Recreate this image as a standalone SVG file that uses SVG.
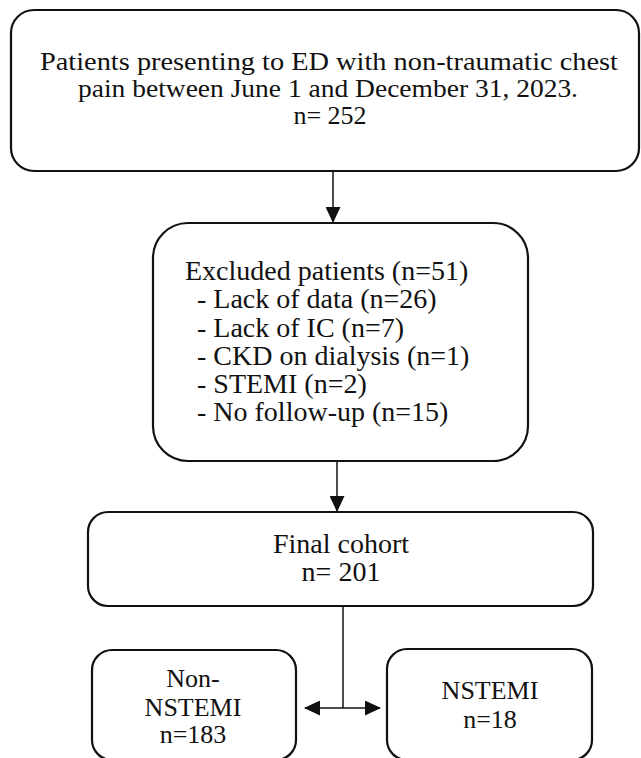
<svg xmlns="http://www.w3.org/2000/svg" width="641" height="758" viewBox="0 0 641 758">
  <defs>
    <marker id="arrow" markerUnits="userSpaceOnUse" markerWidth="16" markerHeight="15" refX="15" refY="7.5" orient="auto">
      <path d="M0,0 L16,7.5 L0,15 z" fill="#111"/>
    </marker>
    <style>
      .box { fill: #ffffff; stroke: #111; stroke-width: 2.2; }
      .conn { fill: none; stroke: #111; stroke-width: 1.5; }
      .t { font-family: "Liberation Serif", "Times New Roman", serif; font-size: 28px; fill: #111; }
      .s { font-size: 26px; }
      .xs { font-size: 25px; }
      .c { text-anchor: middle; }
    </style>
  </defs>
  <rect width="641" height="758" fill="#ffffff"/>

  <g id="connectors">
    <line class="conn" x1="333" y1="171" x2="333" y2="222" marker-end="url(#arrow)"/>
    <line class="conn" x1="337" y1="461" x2="337" y2="511" marker-end="url(#arrow)"/>
    <line class="conn" x1="343" y1="606" x2="343" y2="708"/>
    <line class="conn" x1="343" y1="708" x2="305" y2="708" marker-end="url(#arrow)"/>
    <line class="conn" x1="343" y1="708" x2="380" y2="708" marker-end="url(#arrow)"/>
  </g>

  <g id="node-presenting">
    <rect class="box" x="11" y="10" width="628" height="161" rx="23"/>
    <text class="t xs c" x="329" y="70" textLength="578" lengthAdjust="spacingAndGlyphs">Patients presenting to ED with non-traumatic chest</text>
    <text class="t xs c" x="328" y="97" textLength="500" lengthAdjust="spacingAndGlyphs">pain between June 1 and December 31, 2023.</text>
    <text class="t s c" x="330" y="124">n= 252</text>
  </g>

  <g id="node-excluded">
    <rect class="box" x="153" y="223" width="375" height="238" rx="35"/>
    <text class="t" x="185" y="280">Excluded patients (n=51)</text>
    <text class="t" x="197" y="308">- Lack of data (n=26)</text>
    <text class="t" x="197" y="337">- Lack of IC (n=7)</text>
    <text class="t" x="197" y="365">- CKD on dialysis (n=1)</text>
    <text class="t" x="197" y="393">- STEMI (n=2)</text>
    <text class="t" x="197" y="421">- No follow-up (n=15)</text>
  </g>

  <g id="node-final">
    <rect class="box" x="88" y="512" width="505" height="94" rx="20"/>
    <text class="t c" x="341" y="553">Final cohort</text>
    <text class="t c" x="341" y="581">n= 201</text>
  </g>

  <g id="node-non-nstemi">
    <rect class="box" x="92" y="650" width="204" height="110" rx="20"/>
    <text class="t s c" x="193" y="687">Non-</text>
    <text class="t s c" x="193" y="716">NSTEMI</text>
    <text class="t s c" x="193" y="743">n=183</text>
  </g>

  <g id="node-nstemi">
    <rect class="box" x="387" y="649" width="205" height="111" rx="20"/>
    <text class="t s c" x="490" y="699">NSTEMI</text>
    <text class="t s c" x="490" y="728">n=18</text>
  </g>
</svg>
